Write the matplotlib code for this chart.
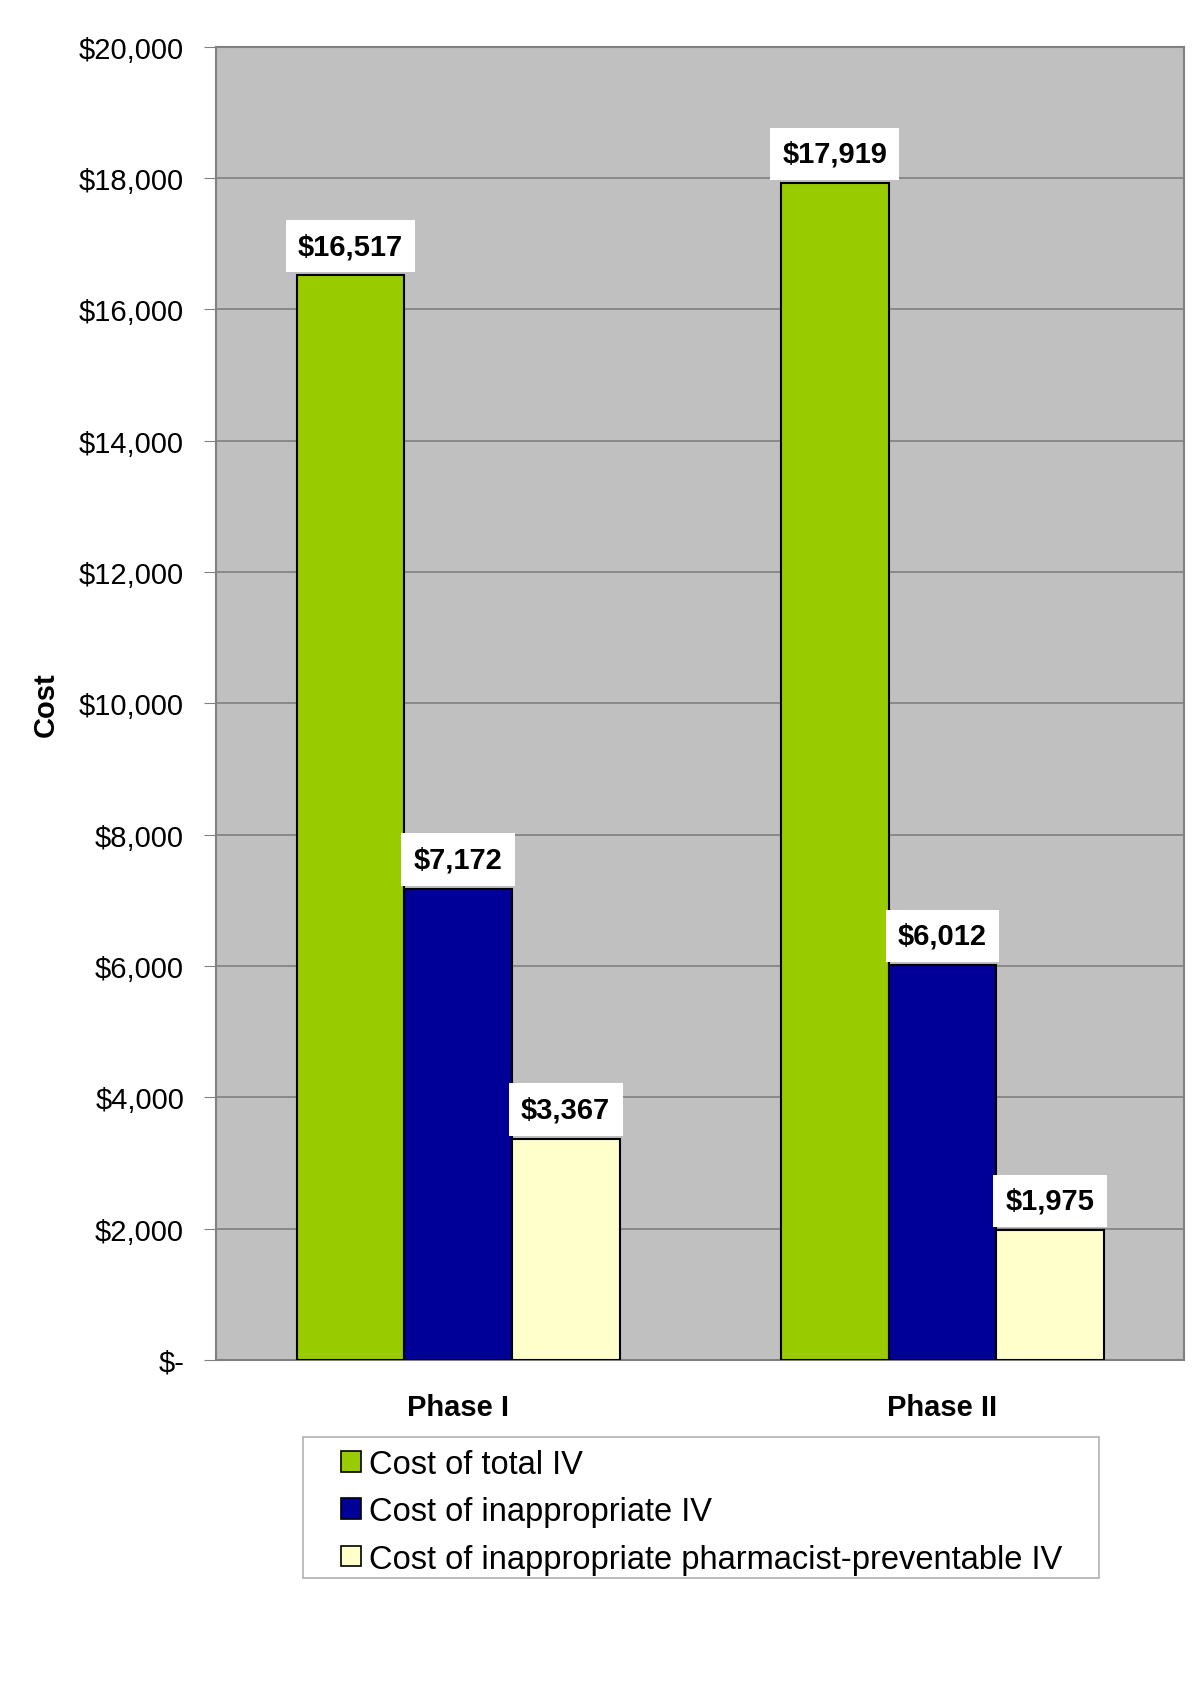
import numpy as np, matplotlib
matplotlib.use('Agg')
import matplotlib.pyplot as plt
from matplotlib.ticker import FuncFormatter
from matplotlib.patches import Rectangle

plt.rcParams['font.family'] = ['Liberation Sans', 'DejaVu Sans']

phases = ["Phase I", "Phase II"]
series = ["Cost of total IV", "Cost of inappropriate IV",
          "Cost of inappropriate pharmacist-preventable IV"]
total_iv = [16517, 17919]
inapp_iv = [7172, 6012]
prevent_iv = [3367, 1975]
colors = ['#99CC00', '#000099', '#FFFFCC']

W, H = 1200, 1699
fig = plt.figure(figsize=(12, 16.99), dpi=100, facecolor='white')
ax = fig.add_axes([0.18, 0.199, 0.807, 0.773])
ax.set_facecolor('#C0C0C0')

x = np.arange(len(phases))
w = 1 / 4.5
for i, (vals, lab, col) in enumerate(zip([total_iv, inapp_iv, prevent_iv], series, colors)):
    pos = x + (i - 1) * w
    ax.bar(pos, vals, w, color=col, edgecolor='black', lw=1.5, label=lab, zorder=3)
    for px, v in zip(pos, vals):
        ax.annotate(f"${v:,}", (px, v), xytext=(0, 11), textcoords='offset points',
                    ha='center', va='bottom', fontsize=21, fontweight='bold',
                    bbox=dict(boxstyle='square,pad=0.42', fc='white', ec='none'), zorder=4)

ax.set_xlim(-0.5, 1.5)
ax.set_ylim(0, 20000)
ax.set_yticks(np.arange(0, 20001, 2000))
ax.yaxis.set_major_formatter(FuncFormatter(lambda v, p: "$-" if v == 0 else f"${v:,.0f}"))
ax.set_xticks(x)
ax.set_xticklabels(phases, fontsize=21, fontweight='bold')
ax.tick_params(axis='x', length=0, pad=24)
ax.tick_params(axis='y', labelsize=21, length=9, color='#808080', pad=14)
ax.grid(axis='y', color='#808080', lw=1.2, zorder=1)
for sp in ax.spines.values():
    sp.set_color('#808080'); sp.set_linewidth(1.5)
ax.set_ylabel("Cost", fontsize=21, fontweight='bold', labelpad=14)

# legend frame drawn separately so the inner padding can match
fig.patches.append(Rectangle((303 / W, 1 - 1579 / H), (1099 - 303) / W, (1579 - 1438) / H,
                             transform=fig.transFigure, fc='white', ec='#B0B0B0', lw=1.2))
lg = fig.legend(loc='upper left', bbox_to_anchor=(341 / W, 1 - 1450 / H),
                fontsize=23.5, frameon=False,
                handlelength=0.6, handleheight=0.6, handletextpad=0.25,
                labelspacing=0.5, borderpad=0, borderaxespad=0)
for h in lg.legend_handles:
    h.set_linewidth(1.2)

fig.savefig('out.png', dpi=100, facecolor='white')
